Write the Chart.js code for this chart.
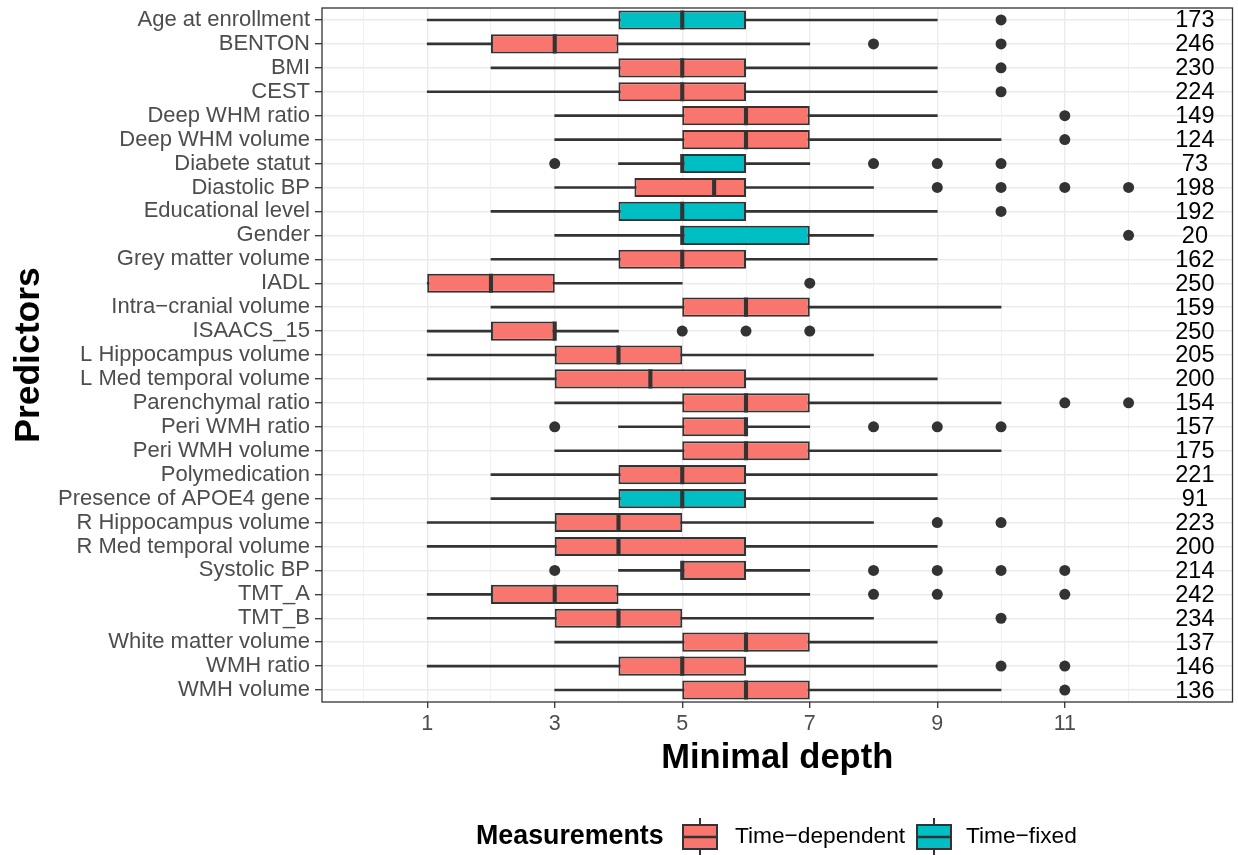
<!DOCTYPE html>
<html>
<head>
<meta charset="utf-8">
<script src="https://cdn.jsdelivr.net/npm/chart.js@4/dist/chart.umd.min.js"></script>
<style>
html,body{margin:0;padding:0;background:#fff;}
#wrap{width:1238px;height:855px;}
</style>
</head>
<body>
<div id="wrap"><canvas id="c" width="1238" height="855"></canvas></div>
<script>
const categories = ["Age at enrollment","BENTON","BMI","CEST","Deep WHM ratio","Deep WHM volume","Diabete statut","Diastolic BP","Educational level","Gender","Grey matter volume","IADL","Intra\u2212cranial volume","ISAACS_15","L Hippocampus volume","L Med temporal volume","Parenchymal ratio","Peri WMH ratio","Peri WMH volume","Polymedication","Presence of APOE4 gene","R Hippocampus volume","R Med temporal volume","Systolic BP","TMT_A","TMT_B","White matter volume","WMH ratio","WMH volume"];
const measurement = ["Time-fixed","Time-dependent","Time-dependent","Time-dependent","Time-dependent","Time-dependent","Time-fixed","Time-dependent","Time-fixed","Time-fixed","Time-dependent","Time-dependent","Time-dependent","Time-dependent","Time-dependent","Time-dependent","Time-dependent","Time-dependent","Time-dependent","Time-dependent","Time-fixed","Time-dependent","Time-dependent","Time-dependent","Time-dependent","Time-dependent","Time-dependent","Time-dependent","Time-dependent"];
const whiskerLow  = [1,1,2,1,3,3,4,3,2,3,2,1,2,1,1,1,3,4,3,2,2,1,1,4,1,1,3,1,3];
const q1          = [4,2,4,4,5,5,5,4.25,4,5,4,1,5,2,3,3,5,5,5,4,4,3,3,5,2,3,5,4,5];
const median      = [5,3,5,5,6,6,5,5.5,5,5,5,2,6,3,4,4.5,6,6,6,5,5,4,4,5,3,4,6,5,6];
const q3          = [6,4,6,6,7,7,6,6,6,7,6,3,7,3,5,6,7,6,7,6,6,5,6,6,4,5,7,6,7];
const whiskerHigh = [9,7,9,9,9,10,7,8,9,8,9,5,10,4,8,9,10,7,10,9,9,8,9,7,7,8,9,9,10];
const outliers = [[10],[8,10],[10],[10],[11],[11],[3,8,9,10],[9,10,11,12],[10],[12],[],[7],[],[5,6,7],[],[],[11,12],[3,8,9,10],[],[],[],[9,10],[],[3,8,9,10,11],[8,9,11],[10],[],[10,11],[11]];
const counts = [173,246,230,224,149,124,73,198,192,20,162,250,159,250,205,200,154,157,175,221,91,223,200,214,242,234,137,146,136];
const xTicks = [0,1,2,3,4,5,6,7,8,9,10,11,12];
const legendLabels = ["Time\u2212dependent","Time\u2212fixed"];

const FONT = "'Liberation Sans', Arial, Helvetica, sans-serif";
const COL_TD = "#F8766D", COL_TF = "#00BFC4", DARK = "#333333";

const whiskerData = whiskerLow.map((lo,i)=>[lo, whiskerHigh[i]]);
const boxTD = q1.map((a,i)=> measurement[i]==="Time-dependent" ? [a,q3[i]] : null);
const boxTF = q1.map((a,i)=> measurement[i]==="Time-fixed" ? [a,q3[i]] : null);
const medHalf = 0.032;
const medData = median.map(m=>[m-medHalf, m+medHalf]);
const outlierPts = [];
outliers.forEach((arr,i)=>arr.forEach(v=>outlierPts.push({x:v, y:categories[i]})));

const extrasPlugin = {
  id: 'extras',
  afterDatasetsDraw(chart){
    const {ctx, chartArea:a, scales:{x,y}} = chart;
    ctx.save();
    ctx.fillStyle = '#000';
    ctx.font = `23.5px ${FONT}`;
    ctx.textAlign = 'center';
    ctx.textBaseline = 'middle';
    counts.forEach((n,i)=>{
      ctx.fillText(String(n), x.getPixelForValue(13.04), y.getPixelForValue(i)+1);
    });
    ctx.strokeStyle = DARK;
    ctx.lineWidth = 1.3;
    ctx.strokeRect(a.left, a.top, a.right-a.left, a.bottom-a.top);
    ctx.restore();
  },
  afterDraw(chart){
    const ctx = chart.ctx;
    ctx.save();
    const cy = 837;
    ctx.fillStyle = '#000';
    ctx.textBaseline = 'middle';
    ctx.textAlign = 'left';
    ctx.font = `bold 26.8px ${FONT}`;
    ctx.fillText('Measurements', 476, cy);
    const keys = [{x:683, col:COL_TD, label:legendLabels[0], tx:735},{x:917, col:COL_TF, label:legendLabels[1], tx:966}];
    keys.forEach(k=>{
      const w = 34, top = 825, bot = 849, cx = k.x + w/2;
      ctx.strokeStyle = DARK; ctx.lineWidth = 2;
      ctx.beginPath(); ctx.moveTo(cx, 818); ctx.lineTo(cx, top); ctx.moveTo(cx, bot); ctx.lineTo(cx, 855); ctx.stroke();
      ctx.fillStyle = k.col;
      ctx.fillRect(k.x, top, w, bot-top);
      ctx.strokeRect(k.x, top, w, bot-top);
      ctx.lineWidth = 2.5;
      ctx.beginPath(); ctx.moveTo(k.x, cy); ctx.lineTo(k.x+w, cy); ctx.stroke();
      ctx.fillStyle = '#000';
      ctx.font = `22.7px ${FONT}`;
      ctx.fillText(k.label, k.tx, cy);
    });
    ctx.restore();
  }
};

new Chart(document.getElementById('c'), {
  type: 'bar',
  data: {
    labels: categories,
    datasets: [
      {label:'whisker', data: whiskerData, indexAxis:'y', backgroundColor: DARK, barThickness: 2, grouped:false, order:4, borderWidth:0},
      {label:'Time-dependent', data: boxTD, indexAxis:'y', backgroundColor: COL_TD, borderColor: DARK, borderWidth: 2, borderSkipped:false, barPercentage:0.8, categoryPercentage:1, grouped:false, order:3},
      {label:'Time-fixed', data: boxTF, indexAxis:'y', backgroundColor: COL_TF, borderColor: DARK, borderWidth: 2, borderSkipped:false, barPercentage:0.8, categoryPercentage:1, grouped:false, order:3},
      {label:'median', data: medData, indexAxis:'y', backgroundColor: DARK, borderWidth:0, barPercentage:0.8, categoryPercentage:1, grouped:false, order:2},
      {type:'scatter', label:'outliers', data: outlierPts, pointRadius:5.5, pointBackgroundColor: DARK, pointBorderWidth:0, showLine:false, order:1}
    ]
  },
  options: {
    responsive: false,
    animation: false,
    events: [],
    layout: {padding:{left:0, right:5, top:8, bottom:73}},
    plugins: {legend:{display:false}, tooltip:{enabled:false}},
    scales: {
      x: {
        type:'linear', position:'bottom', min:-0.65, max:13.63, offset:false, beginAtZero:false,
        afterBuildTicks: s => { s.ticks = xTicks.map(v=>({value:v})); },
        afterFit: s => { s.height = 80; s.paddingLeft = 0; s.paddingRight = 0; },
        grid: {
          offset:false,
          color: '#EBEBEB',
          lineWidth: c => (c.tick && c.tick.value % 2 === 1) ? 1.4 : 0.7,
          tickColor: c => (c.tick && c.tick.value % 2 === 1) ? DARK : 'rgba(0,0,0,0)',
          tickLength: 6, tickWidth: 1.3
        },
        border: {display:false},
        ticks: {
          autoSkip:false, maxRotation:0, padding:3, color:'#4D4D4D',
          font:{family:FONT, size:21.5},
          callback: v => (v % 2 === 1) ? String(v) : ''
        },
        title: {display:true, text:'Minimal depth', color:'#000', font:{family:FONT, size:34.5, weight:'bold'}, padding:{top:0, bottom:3}}
      },
      y: {
        type:'category', position:'left', offset:true,
        afterFit: s => { s.width = 322; s.paddingTop = 0; s.paddingBottom = 0; },
        grid: {color:'#EBEBEB', lineWidth:1.4, offset:false, tickColor: DARK, tickLength:7, tickWidth:1.3},
        border: {display:false},
        ticks: {autoSkip:false, padding:5, color:'#4D4D4D', font:{family:FONT, size:22}},
        title: {display:true, text:'Predictors', color:'#000', font:{family:FONT, size:35.5, weight:'bold'}, padding:{top:8, bottom:0}}
      }
    }
  },
  plugins: [extrasPlugin]
});
</script>
</body>
</html>
